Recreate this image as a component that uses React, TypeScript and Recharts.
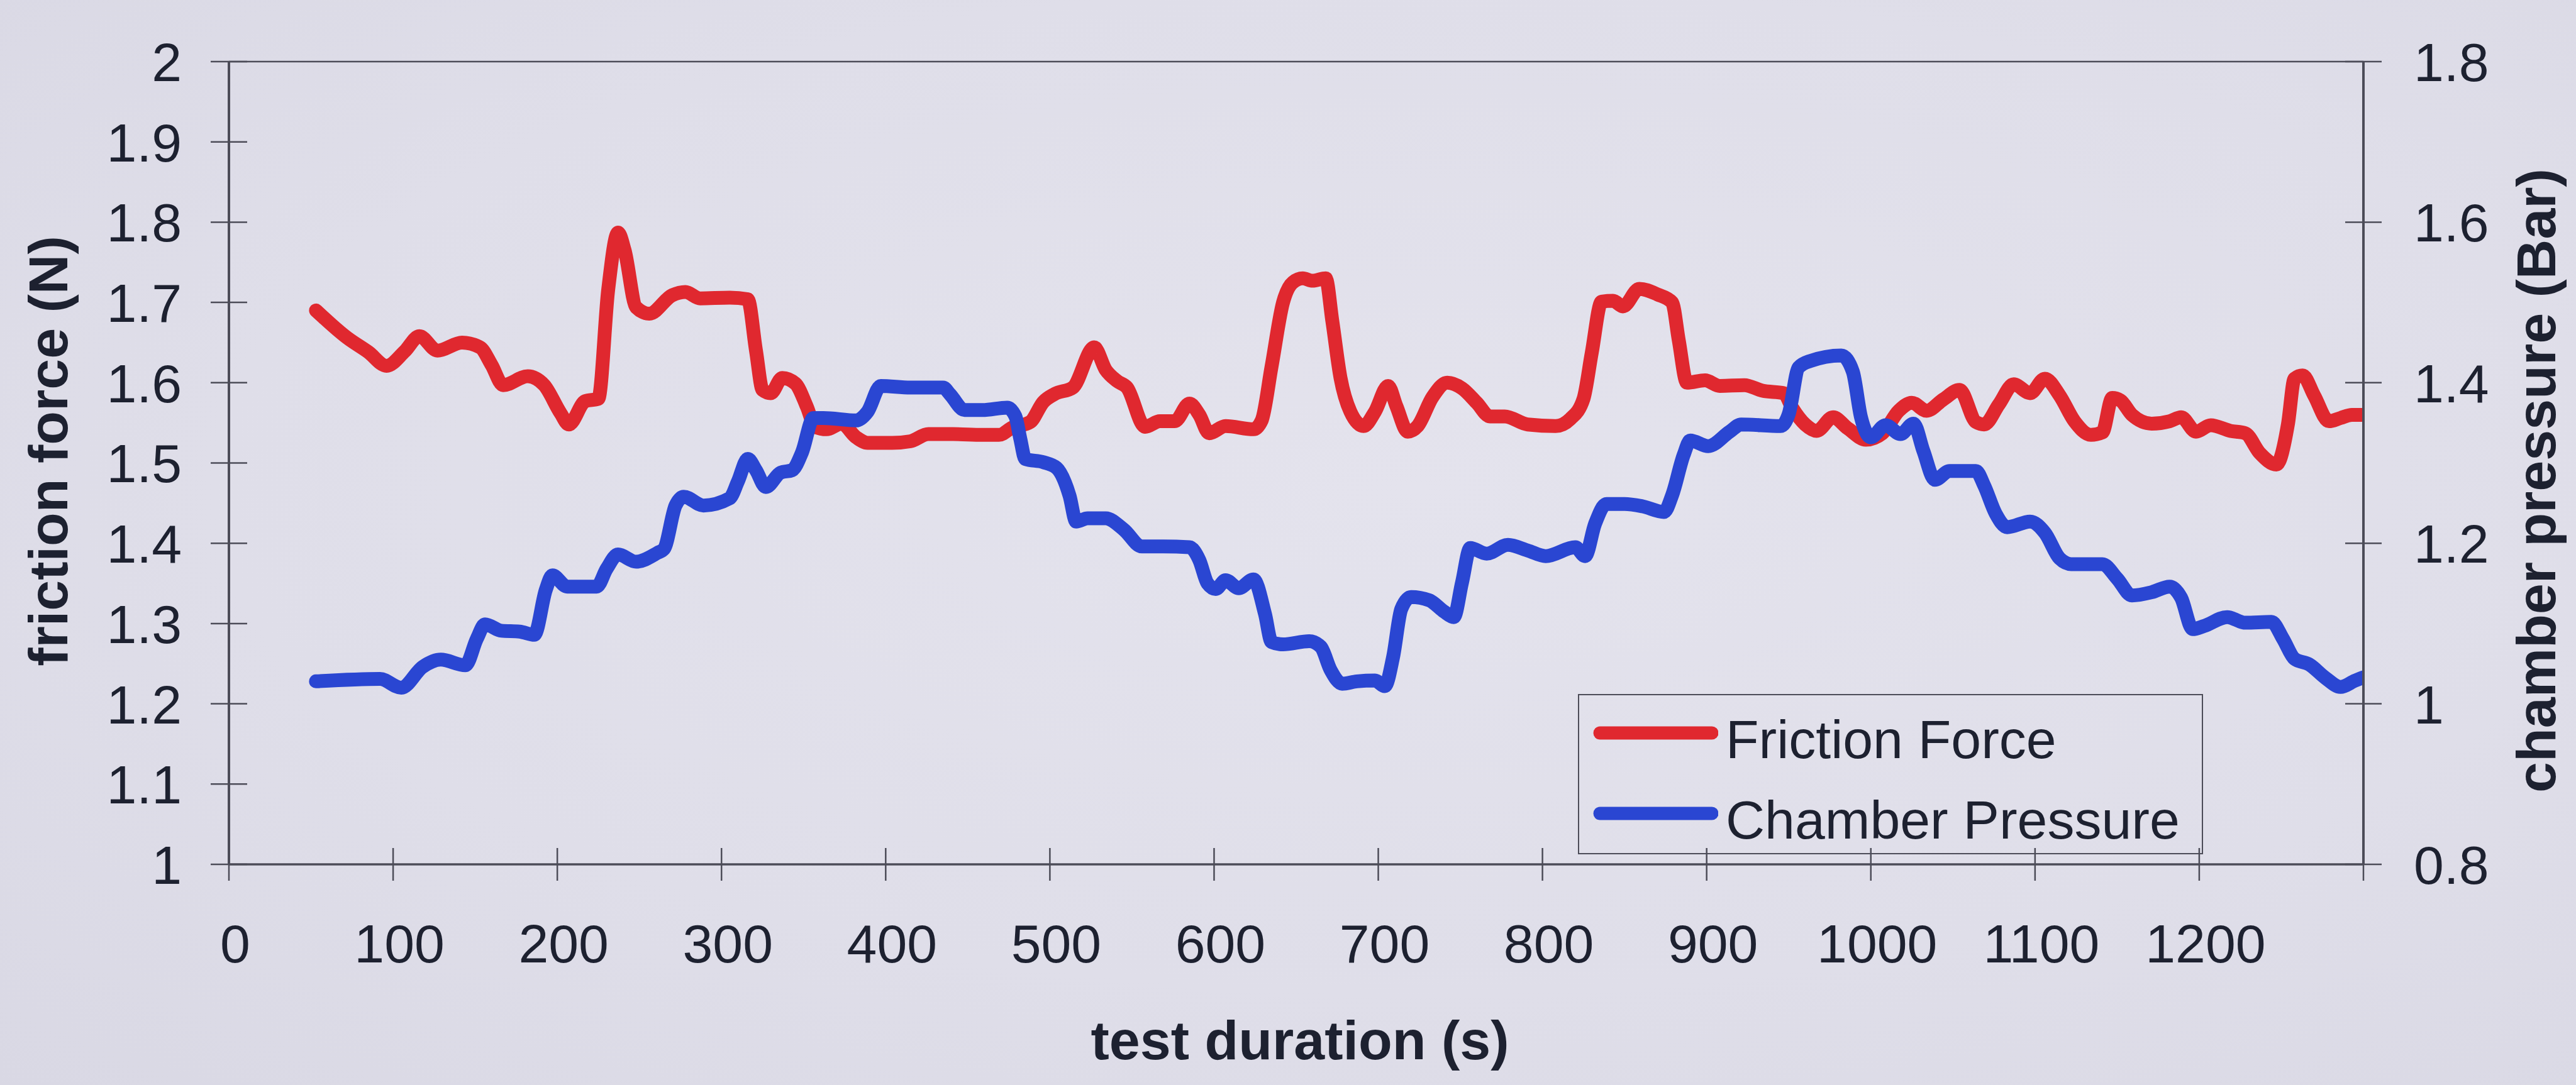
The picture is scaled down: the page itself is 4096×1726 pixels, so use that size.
import { Label, Legend, Line, LineChart, ReferenceLine, XAxis, YAxis } from "recharts"

// friction force (N), left axis
const frictionTime = [
  53, 72, 85, 96, 107, 116, 127, 142, 153, 160, 167, 182, 192, 202, 207, 217, 225, 231, 237, 241, 248, 256, 270, 278,
  287, 305, 316, 321, 325, 330, 337, 345, 352, 357, 364, 373, 382, 389, 404, 415, 426, 441, 459, 469, 477, 488, 496,
  503, 514, 527, 534, 541, 547, 558, 567, 576, 585, 591, 597, 607, 624, 629, 635, 642, 648, 654, 660, 668, 672, 677,
  683, 691, 698, 706, 711, 718, 724, 733, 742, 751, 760, 768, 777, 791, 808, 817, 825, 830, 836, 843, 849, 859, 870,
  879, 883, 888, 899, 908, 923, 934, 947, 952, 960, 967, 977, 986, 997, 1007, 1017, 1025, 1034, 1044, 1054, 1064,
  1069, 1078, 1087, 1097, 1106, 1115, 1124, 1134, 1141, 1147, 1152, 1159, 1171, 1182, 1189, 1198, 1207, 1219, 1228,
  1237, 1247, 1254, 1258, 1263, 1270, 1279, 1286, 1293, 1300,
]
const frictionForce = [
  1.69, 1.656, 1.638, 1.621, 1.639, 1.658, 1.64, 1.65, 1.644, 1.622, 1.597, 1.608, 1.597, 1.562, 1.548, 1.577, 1.58,
  1.716, 1.787, 1.765, 1.694, 1.686, 1.709, 1.713, 1.705, 1.706, 1.704, 1.64, 1.591, 1.587, 1.606, 1.599, 1.57, 1.545,
  1.542, 1.549, 1.532, 1.525, 1.525, 1.527, 1.536, 1.536, 1.535, 1.535, 1.544, 1.551, 1.576, 1.586, 1.594, 1.644,
  1.616, 1.602, 1.594, 1.545, 1.552, 1.552, 1.574, 1.56, 1.537, 1.546, 1.542, 1.553, 1.62, 1.7, 1.725, 1.73, 1.727,
  1.73, 1.677, 1.606, 1.564, 1.546, 1.564, 1.596, 1.571, 1.539, 1.546, 1.582, 1.6, 1.593, 1.575, 1.558, 1.558, 1.548,
  1.546, 1.555, 1.58, 1.637, 1.701, 1.702, 1.695, 1.717, 1.71, 1.7, 1.653, 1.6, 1.603, 1.596, 1.597, 1.59, 1.587,
  1.569, 1.548, 1.54, 1.557, 1.543, 1.529, 1.537, 1.565, 1.575, 1.565, 1.579, 1.591, 1.551, 1.548, 1.573, 1.598,
  1.587, 1.605, 1.584, 1.552, 1.535, 1.538, 1.581, 1.578, 1.56, 1.549, 1.552, 1.557, 1.539, 1.547, 1.54, 1.537, 1.512,
  1.498, 1.548, 1.605, 1.609, 1.584, 1.552, 1.556, 1.56, 1.56,
]

// chamber pressure (Bar), right axis
const pressureTime = [
  53, 92, 105, 118, 129, 144, 151, 156, 166, 177, 186, 193, 197, 206, 224, 230, 237, 248, 261, 265, 272, 277, 289,
  305, 310, 316, 321, 327, 336, 343, 349, 356, 362, 382, 389, 397, 415, 435, 439, 448, 459, 474, 479, 482, 485, 496,
  504, 512, 516, 523, 534, 545, 556, 569, 585, 591, 596, 601, 607, 615, 624, 631, 635, 642, 658, 665, 671, 678, 687,
  698, 704, 709, 714, 720, 731, 740, 746, 751, 756, 766, 779, 791, 802, 820, 826, 832, 839, 850, 861, 874, 879, 886,
  890, 901, 914, 921, 945, 950, 956, 963, 982, 989, 994, 1000, 1009, 1018, 1026, 1032, 1039, 1048, 1064, 1069, 1076,
  1083, 1097, 1106, 1115, 1122, 1141, 1150, 1159, 1171, 1182, 1189, 1196, 1203, 1217, 1228, 1244, 1251, 1258, 1267,
  1277, 1286, 1295, 1300,
]
const chamberPressure = [
  1.028, 1.031, 1.02, 1.046, 1.055, 1.048, 1.081, 1.099, 1.091, 1.09, 1.086, 1.142, 1.16, 1.146, 1.146, 1.168, 1.186,
  1.177, 1.188, 1.193, 1.247, 1.258, 1.247, 1.256, 1.277, 1.305, 1.291, 1.27, 1.288, 1.291, 1.313, 1.356, 1.356, 1.353,
  1.364, 1.396, 1.394, 1.394, 1.386, 1.366, 1.366, 1.369, 1.358, 1.33, 1.305, 1.301, 1.294, 1.259, 1.227, 1.231, 1.231,
  1.217, 1.196, 1.196, 1.195, 1.179, 1.15, 1.143, 1.154, 1.144, 1.155, 1.112, 1.077, 1.074, 1.078, 1.071, 1.042,
  1.025, 1.028, 1.029, 1.022, 1.058, 1.118, 1.133, 1.129, 1.115, 1.108, 1.151, 1.194, 1.187, 1.198, 1.191, 1.184,
  1.195, 1.184, 1.224, 1.249, 1.249, 1.246, 1.239, 1.26, 1.31, 1.328, 1.321, 1.339, 1.348, 1.346, 1.361, 1.419, 1.427,
  1.434, 1.414, 1.357, 1.332, 1.347, 1.336, 1.349, 1.315, 1.279, 1.29, 1.29, 1.272, 1.237, 1.22, 1.227, 1.213, 1.181,
  1.174, 1.174, 1.156, 1.135, 1.139, 1.146, 1.132, 1.093, 1.097, 1.108, 1.101, 1.102, 1.081, 1.056, 1.049, 1.032,
  1.021, 1.029, 1.033,
]

const timeTicks = [0, 100, 200, 300, 400, 500, 600, 700, 800, 900, 1000, 1100, 1200, 1300]
const forceTicks = [1, 1.1, 1.2, 1.3, 1.4, 1.5, 1.6, 1.7, 1.8, 1.9, 2]
const pressureTicks = [0.8, 1, 1.2, 1.4, 1.6, 1.8]
const seriesNames = ["Friction Force", "Chamber Pressure"]

const frictionData = frictionTime.map((t, i) => ({ t, force: frictionForce[i] }))
const pressureData = pressureTime.map((t, i) => ({ t, pressure: chamberPressure[i] }))

const RED = "#e0282f"
const BLUE = "#2a46d2"
const AXIS = "#4c4c58"
const INK = "#1d2130"
const FONT = "'Liberation Sans', Arial, sans-serif"

const fmt = (v: number) => String(Number(v.toFixed(1)))

function LeftTick({ x, y, payload }: any) {
  return (
    <g>
      <line x1={x - 29} x2={x + 29} y1={y} y2={y} stroke={AXIS} strokeWidth={2.5} />
      <text x={x - 75} y={y} dy="0.36em" textAnchor="end" fontSize={86} fill={INK} fontFamily={FONT}>
        {fmt(payload.value)}
      </text>
    </g>
  )
}

function RightTick({ x, y, payload }: any) {
  return (
    <g>
      <line x1={x - 29} x2={x + 29} y1={y} y2={y} stroke={AXIS} strokeWidth={2.5} />
      <text x={x + 80} y={y} dy="0.36em" textAnchor="start" fontSize={86} fill={INK} fontFamily={FONT}>
        {fmt(payload.value)}
      </text>
    </g>
  )
}

function BottomTick({ x, y, payload }: any) {
  return (
    <g>
      <line x1={x} x2={x} y1={y - 26} y2={y + 26} stroke={AXIS} strokeWidth={2.5} />
      {payload.value <= 1200 && (
        <text x={x + 10} y={y + 125} dy="0.36em" textAnchor="middle" fontSize={86} fill={INK} fontFamily={FONT}>
          {payload.value}
        </text>
      )}
    </g>
  )
}

function AxisTitle({ viewBox, text, side }: any) {
  const { x, y, width, height } = viewBox
  const style = { fontSize: 88, fontWeight: 700, fill: INK, fontFamily: FONT }
  if (side === "bottom") {
    return (
      <text x={x + width / 2 + 6} y={y + 310} textAnchor="middle" {...style}>
        {text}
      </text>
    )
  }
  const bx = side === "left" ? x - 57 : x + 305
  const cy = side === "left" ? y + height / 2 - 19 : y + height / 2 + 28
  return (
    <text x={bx} y={cy} textAnchor="middle" transform={`rotate(-90 ${bx} ${cy})`} {...style}>
      {text}
    </text>
  )
}

function LegendBox({ payload }: any) {
  // keep the series in drawing order, not alphabetical
  const items = [...(payload ?? [])].sort(
    (a: any, b: any) => seriesNames.indexOf(a.value) - seriesNames.indexOf(b.value),
  )
  return (
    <div
      style={{
        width: 994,
        height: 255,
        boxSizing: "border-box",
        border: `2px solid ${AXIS}`,
        fontFamily: FONT,
        fontSize: 86,
        color: INK,
        position: "relative",
      }}
    >
      {items.map((item: any, i: number) => (
        <div
          key={item.value}
          style={{ position: "absolute", left: 21, top: 20 + i * 128, display: "flex", alignItems: "center", height: 100 }}
        >
          <svg width={200} height={40} style={{ marginRight: 12, marginTop: -20 }}>
            <line x1={12} x2={190} y1={20} y2={20} stroke={item.color} strokeWidth={21} strokeLinecap="round" />
          </svg>
          <span style={{ lineHeight: "100px" }}>{item.value}</span>
        </div>
      ))}
    </div>
  )
}

export default function App() {
  return (
    <div
      style={{
        position: "absolute",
        left: 0,
        top: 0,
        width: 4096,
        height: 1726,
        background: "radial-gradient(ellipse at 55% 45%, #e4e3ed 0%, #dfdee9 60%, #d9d8e4 100%)",
        overflow: "hidden",
      }}
    >
      <LineChart width={4096} height={1726} margin={{ top: 98, right: 138, bottom: 151, left: 164 }}>
        <XAxis
          type="number"
          dataKey="t"
          domain={[0, 1300]}
          ticks={timeTicks}
          allowDataOverflow
          height={200}
          tickLine={false}
          tickSize={0}
          tickMargin={0}
          tick={<BottomTick />}
          stroke={AXIS}
          strokeWidth={3.5}
          label={<AxisTitle text="test duration (s)" side="bottom" />}
        />
        <YAxis
          yAxisId="left"
          domain={[1, 2]}
          ticks={forceTicks}
          allowDataOverflow
          width={200}
          tickLine={false}
          tickSize={0}
          tickMargin={0}
          tick={<LeftTick />}
          stroke={AXIS}
          strokeWidth={4}
          label={<AxisTitle text="friction force (N)" side="left" />}
        />
        <YAxis
          yAxisId="right"
          orientation="right"
          domain={[0.8, 1.8]}
          ticks={pressureTicks}
          allowDataOverflow
          width={200}
          tickLine={false}
          tickSize={0}
          tickMargin={0}
          tick={<RightTick />}
          stroke={AXIS}
          strokeWidth={4}
          label={<AxisTitle text="chamber pressure (Bar)" side="right" />}
        />
        <ReferenceLine yAxisId="left" y={2} stroke={AXIS} strokeWidth={2.5} />
        <Line
          yAxisId="left"
          data={frictionData}
          dataKey="force"
          name="Friction Force"
          type="monotone"
          stroke={RED}
          strokeWidth={22}
          strokeLinejoin="round"
          strokeLinecap="round"
          dot={false}
          activeDot={false}
          isAnimationActive={false}
        />
        <Line
          yAxisId="right"
          data={pressureData}
          dataKey="pressure"
          name="Chamber Pressure"
          type="monotone"
          stroke={BLUE}
          strokeWidth={22}
          strokeLinejoin="round"
          strokeLinecap="round"
          dot={false}
          activeDot={false}
          isAnimationActive={false}
        />
        <Legend
          layout="vertical"
          align="center"
          verticalAlign="middle"
          content={<LegendBox />}
          wrapperStyle={{ left: 2509, top: 1104, width: 994, height: 255 }}
        />
      </LineChart>
    </div>
  )
}
